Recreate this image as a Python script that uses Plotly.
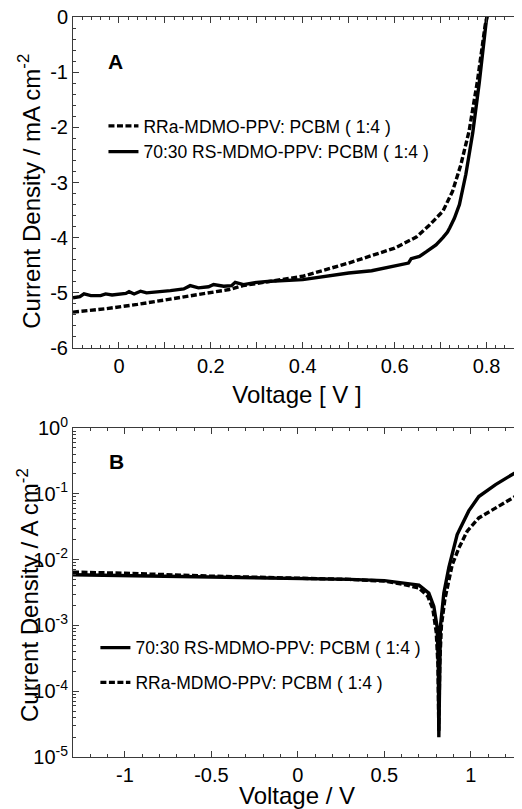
import plotly.graph_objects as go

# ---------------- Panel A (linear J-V) ----------------
v_rra_a = [-0.1, -0.03, 0.04, 0.11, 0.18, 0.24, 0.27, 0.33, 0.4, 0.5, 0.6, 0.647,
           0.676, 0.705, 0.726, 0.744, 0.762, 0.780, 0.797, 0.806]
j_rra_a = [-5.35, -5.29, -5.21, -5.12, -5.03, -4.94, -4.87, -4.79, -4.70, -4.46, -4.19, -3.99,
           -3.77, -3.52, -3.16, -2.68, -2.07, -1.17, -0.15, 0.2]

v_rs_a = [-0.1, -0.085, -0.076, -0.061, -0.04, -0.029, -0.015, -0.004, 0.015, 0.022, 0.033,
          0.047, 0.06, 0.112, 0.141, 0.155, 0.173, 0.195, 0.206, 0.228, 0.245, 0.253, 0.271,
          0.30, 0.33, 0.4, 0.5, 0.55, 0.6, 0.63, 0.636, 0.654, 0.67, 0.69, 0.705, 0.715, 0.72,
          0.73, 0.741, 0.755, 0.770, 0.784, 0.799, 0.806]
j_rs_a = [-5.09, -5.07, -5.02, -5.05, -5.05, -5.02, -5.04, -5.03, -5.01, -4.98, -5.02,
          -4.97, -5.0, -4.96, -4.93, -4.87, -4.91, -4.89, -4.85, -4.88, -4.87, -4.81, -4.85,
          -4.81, -4.79, -4.76, -4.64, -4.60, -4.52, -4.46, -4.38, -4.34, -4.25, -4.13, -4.0, -3.9, -3.82,
          -3.65, -3.40, -2.85, -2.1, -1.2, -0.1, 0.3]

# ---------------- Panel B (log |J|-V) ----------------
v_rs_b = [-1.3, -1.0, -0.5, 0.0, 0.3, 0.5, 0.6, 0.7, 0.757, 0.786, 0.805, 0.812, 0.815,
          0.818, 0.824, 0.844, 0.873, 0.921, 0.988, 1.046, 1.104, 1.143, 1.2, 1.277, 1.3]
j_rs_b = [5.9e-3, 5.75e-3, 5.5e-3, 5.25e-3, 5.0e-3, 4.8e-3, 4.4e-3, 4.1e-3, 3.1e-3, 1.95e-3,
          9.5e-4, 2.5e-4, 2.0e-5, 2.5e-4, 9.5e-4, 3.1e-3, 7.6e-3, 2.4e-2, 5.5e-2, 9.1e-2,
          0.117, 0.138, 0.17, 0.23, 0.245]

v_rra_b = [-1.3, -1.0, -0.5, 0.0, 0.3, 0.5, 0.6, 0.7, 0.75, 0.78, 0.80, 0.81, 0.815, 0.82,
           0.83, 0.85, 0.892, 0.931, 0.979, 1.046, 1.162, 1.277, 1.3]
j_rra_b = [6.45e-3, 6.2e-3, 5.6e-3, 5.25e-3, 5.0e-3, 4.7e-3, 4.25e-3, 3.7e-3, 2.8e-3, 1.8e-3,
           7.9e-4, 2.5e-4, 2.5e-5, 2.5e-4, 1.0e-3, 2.5e-3, 8.3e-3, 1.5e-2, 2.7e-2, 4.3e-2,
           6.5e-2, 9.8e-2, 0.102]

name_rra = "RRa-MDMO-PPV: PCBM ( 1:4 )"
name_rs = "70:30 RS-MDMO-PPV: PCBM ( 1:4 )"

xa_tickvals = [-0.1, 0.0, 0.1, 0.2, 0.3, 0.4, 0.5, 0.6, 0.7, 0.8]
xa_ticktext = ["", "0", "", "0.2", "", "0.4", "", "0.6", "", "0.8"]
ya_tickvals = [-6, -5, -4, -3, -2, -1, 0]
ya_ticktext = ["-6", "-5", "-4", "-3", "-2", "-1", "0"]
xb_tickvals = [-1, -0.5, 0, 0.5, 1]
xb_ticktext = ["-1", "-0.5", "0", "0.5", "1"]
yb_tickvals = [1e-5, 1e-4, 1e-3, 1e-2, 1e-1, 1e0]
yb_ticktext = ["10<sup>-5</sup>", "10<sup>-4</sup>", "10<sup>-3</sup>",
               "10<sup>-2</sup>", "10<sup>-1</sup>", "10<sup>0</sup>"]

FONT = "Liberation Sans, Arial, Helvetica, sans-serif"
AX = "#3a3a3a"
solid = dict(color="black", width=3.4)
dashed = dict(color="black", width=3.4, dash="6px,2.5px")

fig = go.Figure()
fig.add_trace(go.Scatter(x=v_rra_a, y=j_rra_a, mode="lines", name=name_rra, line=dashed,
                         xaxis="x", yaxis="y", legend="legend", legendrank=1))
fig.add_trace(go.Scatter(x=v_rs_a, y=j_rs_a, mode="lines", name=name_rs, line=solid,
                         xaxis="x", yaxis="y", legend="legend", legendrank=2))
fig.add_trace(go.Scatter(x=v_rra_b, y=j_rra_b, mode="lines", name=name_rra, line=dashed,
                         xaxis="x2", yaxis="y2", legend="legend2", legendrank=2,
                         legendgroup="b2"))
fig.add_trace(go.Scatter(x=v_rs_b, y=j_rs_b, mode="lines", name=name_rs, line=solid,
                         xaxis="x2", yaxis="y2", legend="legend2", legendrank=1,
                         legendgroup="b1"))

common = dict(showline=True, linecolor=AX, linewidth=1, mirror="allticks", ticks="inside",
              tickcolor=AX, ticklen=6, tickwidth=1, showgrid=False, zeroline=False,
              automargin=False, ticklabeloverflow="allow",
              tickfont=dict(family=FONT, size=20, color="black"))

# the page body adds an 8 px offset; figure sized so the plot fits the 522x809 window
fig.update_layout(
    width=514, height=801,
    margin=dict(l=65, r=1, t=9, b=52),
    paper_bgcolor="white", plot_bgcolor="white",
    font=dict(family=FONT, color="black"),
    xaxis=dict(domain=[0, 1], anchor="y", range=[-0.1, 0.875],
               tickmode="array", tickvals=xa_tickvals, ticktext=xa_ticktext,
               minor=dict(ticks="inside", dtick=0.02, ticklen=3, tickcolor=AX),
               title=dict(text="Voltage [ V ]", font=dict(family=FONT, size=24), standoff=10),
               **common),
    yaxis=dict(domain=[0.5527, 1], anchor="x", range=[-6, 0],
               tickmode="array", tickvals=ya_tickvals, ticktext=ya_ticktext,
               minor=dict(ticks="inside", dtick=0.2, ticklen=3, tickcolor=AX),
               **common),
    xaxis2=dict(domain=[0, 1], anchor="y2", range=[-1.3, 1.29],
                tickmode="array", tickvals=xb_tickvals, ticktext=xb_ticktext,
                minor=dict(ticks="inside", dtick=0.1, tick0=0, ticklen=3, tickcolor=AX),
                title=dict(text="Voltage / V", font=dict(family=FONT, size=24), standoff=14),
                **common),
    yaxis2=dict(domain=[0, 0.4446], anchor="x2", type="log", range=[-5, 0],
                tickmode="array", tickvals=yb_tickvals, ticktext=yb_ticktext,
                minor=dict(ticks="inside", ticklen=3, tickcolor=AX, dtick="D1"),
                **common),
    legend=dict(x=0.068, y=0.877, xanchor="left", yanchor="top", bgcolor="rgba(0,0,0,0)",
                font=dict(family=FONT, size=17.5), itemwidth=30, traceorder="normal"),
    legend2=dict(x=0.05, y=0.172, xanchor="left", yanchor="top", bgcolor="rgba(0,0,0,0)",
                 font=dict(family=FONT, size=17.5), itemwidth=30, traceorder="grouped",
                 tracegroupgap=9),
    showlegend=True,
    annotations=[
        dict(text="<b>A</b>", xref="paper", yref="paper", x=0.094, y=0.9405,
             xanchor="center", yanchor="middle",
             showarrow=False, font=dict(family=FONT, size=21)),
        dict(text="<b>B</b>", xref="paper", yref="paper", x=0.098, y=0.40,
             xanchor="center", yanchor="middle",
             showarrow=False, font=dict(family=FONT, size=21)),
        dict(text="Current Density / mA cm<sup>-2</sup>", xref="paper", yref="paper",
             x=-0.098, y=0.764, xanchor="center", yanchor="middle", textangle=-90,
             showarrow=False, font=dict(family=FONT, size=24)),
        dict(text="Current Density / A cm<sup>-2</sup>", xref="paper", yref="paper",
             x=-0.1004, y=0.219, xanchor="center", yanchor="middle", textangle=-90,
             showarrow=False, font=dict(family=FONT, size=24)),
    ],
)

fig.write_html("out.html")
